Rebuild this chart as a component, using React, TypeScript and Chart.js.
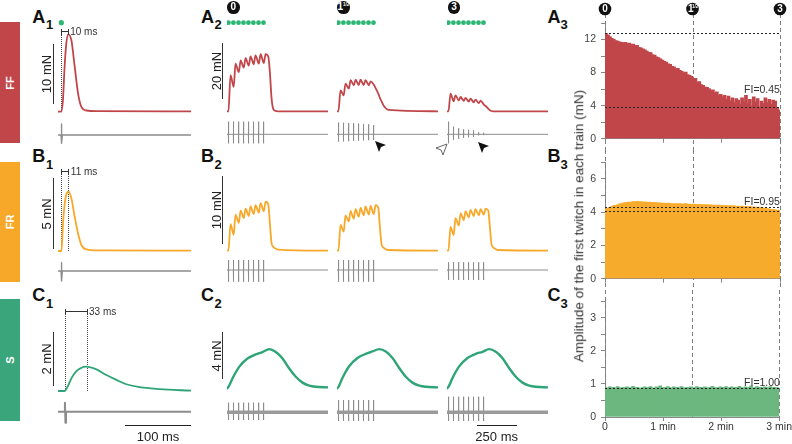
import React, { useEffect, useRef } from 'react';
import { Chart, registerables } from 'chart.js';

Chart.register(...registerables);

const FONT = '"Liberation Sans", Arial, Helvetica, sans-serif';

/* ======================= DATA ======================= */
// Single twitches: time (ms) / force (mN)
const TW_FF_T = [0, 5, 7.5, 10, 12.6, 15.5, 20.3, 25.3, 30.3, 35.4, 43, 60, 202];
const TW_FF = [0, 0, 1.95, 7.5, 11.4, 12.9, 11.9, 7.5, 3.1, 0.8, 0.2, 0.1, 0.05];
const TW_FR_T = [0, 5.2, 7.6, 10.2, 12.7, 16.2, 20.8, 25.3, 30.3, 35.5, 43, 63, 202];
const TW_FR = [0, 0, 1.95, 3.36, 4.0, 4.18, 3.6, 2.4, 1.25, 0.42, 0.12, 0.05, 0.03];
const TW_S_T = [0, 10.2, 15.2, 20.3, 27.9, 35.5, 42, 58.2, 73.3, 88.5, 103.6, 123.8, 154, 202];
const TW_S = [0, 0, 0.19, 0.47, 0.74, 0.86, 0.9, 0.8, 0.59, 0.41, 0.25, 0.14, 0.07, 0.01];
const TW_STIM_T = [5, 5, 10.5];
const TW_STIM_UP = [11, 8.3, 9];
const TW_STIM_DOWN = [8.3, 10, 11];
const TW_PEAK_MS = [10, 11, 33];

// Tetanic trains: 8 pulses
const STIM_T = [9, 40, 72, 103, 134, 165, 197, 228];
const TET_T = [0, 9, 22, 42, 53, 74, 85, 105, 116, 136, 147, 167, 178, 199, 210, 230, 241, 258, 268, 278, 288, 300, 320, 630];
const FF_TET_0 = [0, 0, 12.9, 8.7, 17, 14, 18.2, 15.6, 19, 16.3, 19.6, 16.8, 20, 17, 20.4, 17.2, 20.4, 19.5, 14, 5, 1, 0.2, 0, 0];
const FF_TET_1 = [0, 0, 7.5, 5.7, 9.9, 8.1, 11.1, 9.3, 11.3, 9.4, 11.3, 9.4, 11.1, 9.3, 10.7, 9.5, 8.3, 6.3, 4.8, 3.6, 2.4, 1.4, 0.5, 0];
const FF_TET_2 = [0, 0, 6.3, 3.6, 5.7, 3.9, 5.1, 3.7, 4.8, 3.5, 4.5, 3.2, 4.2, 2.9, 3.8, 2.4, 1.9, 0.9, 0.4, 0.1, 0, 0, 0, 0];
const FR_TET_0 = [0, 0, 3.9, 2.35, 5.3, 4.1, 5.9, 4.8, 6.2, 5.1, 6.5, 5.4, 6.7, 5.6, 7.0, 5.8, 7.2, 6.8, 4, 1.2, 0.6, 0.35, 0.15, 0];
const FR_TET_1 = [0, 0, 3.8, 2.8, 5.2, 4.3, 5.8, 4.7, 6.1, 5.0, 6.3, 5.2, 6.5, 5.3, 6.6, 5.4, 6.7, 6.3, 3.5, 1.0, 0.5, 0.3, 0.1, 0];
const FR_TET_2 = [0, 0, 3.5, 2.3, 4.8, 3.7, 5.5, 4.5, 5.8, 4.9, 6.0, 5.1, 6.1, 5.2, 6.1, 5.3, 6.2, 5.9, 3.5, 1.0, 0.5, 0.3, 0.1, 0];
const S_TET_T = [0, 10, 34, 76, 128, 180, 222, 264, 305, 347, 389, 430, 472, 514, 555, 630];
const S_TET_0 = [0, 0.15, 0.85, 1.84, 2.55, 2.9, 3.1, 3.35, 3.1, 2.55, 1.7, 1.0, 0.5, 0.25, 0.15, 0.1];
const S_TET_1 = [0, 0.15, 0.9, 1.9, 2.6, 2.95, 3.15, 3.35, 3.15, 2.6, 1.75, 1.0, 0.5, 0.25, 0.15, 0.1];
const S_TET_2 = [0, 0.15, 0.88, 1.88, 2.6, 2.95, 3.12, 3.35, 3.12, 2.58, 1.72, 1.0, 0.5, 0.25, 0.15, 0.1];

// Stimulus artefact amplitudes (arbitrary units)
const FF_STIM_UP = [[12.6, 12.6, 12.6, 12.6, 12.6, 12.6, 12.6, 12.6], [11.7, 11.5, 11.3, 11, 10.7, 10.4, 10, 9.3], [12.6, 7.6, 6, 5, 4.5, 4, 2, 1.5]];
const FF_STIM_DOWN = [[9, 9, 9, 9, 9, 9, 9, 9], [7.3, 7.1, 6.9, 6.6, 6.4, 6.1, 5.9, 5.7], [9, 5.7, 4.5, 3.5, 3, 2.5, 1, 0.8]];
const FR_STIM_UP = [[10, 10, 10, 10, 10, 10, 10, 10], [10, 10, 10, 10, 10, 10, 10, 10], [7.7, 7.7, 7.7, 7.7, 7.7, 7.7, 7.7, 7.7]];
const FR_STIM_DOWN = [[11.7, 11.7, 11.7, 11.7, 11.7, 11.7, 11.7, 11.7], [11.7, 11.7, 11.7, 11.7, 11.7, 11.7, 11.7, 11.7], [10, 10, 10, 10, 10, 10, 10, 10]];
const S_STIM_UP = [[9.6, 9.6, 9.6, 9.6, 9.6, 9.6, 9.6, 9.6], [12.3, 12.3, 12.3, 12.3, 12.3, 12.3, 12.3, 12.3], [15.6, 15.6, 15.6, 15.6, 15.6, 15.6, 15.6, 15.6]];
const S_STIM_DOWN = [[7.7, 7.7, 7.7, 7.7, 7.7, 7.7, 7.7, 7.7], [8.7, 8.7, 8.7, 8.7, 8.7, 8.7, 8.7, 8.7], [8.7, 8.7, 8.7, 8.7, 8.7, 8.7, 8.7, 8.7]];

// Amplitude of first twitch of each train (mN), one train every 2 s over 3 min
const TRAIN_INTERVAL_S = 2;
const FF_AMP = [
  12.8, 12.6, 12.4, 12.2, 12.05, 11.9, 11.85, 11.75, 11.7, 11.65,
  11.7, 11.55, 11.6, 11.45, 11.5, 11.3, 11.35, 11.1, 11.05, 10.9,
  10.8, 10.65, 10.5, 10.45, 10.2, 10.15, 9.95, 9.85, 9.7, 9.55,
  9.4, 9.3, 9.1, 9.05, 8.8, 8.75, 8.5, 8.55, 8.3, 8.2,
  8.0, 8.1, 7.8, 7.7, 7.6, 7.2, 7.35, 6.9, 6.95, 6.6,
  6.5, 6.3, 6.25, 6.1, 5.9, 5.95, 5.6, 5.7, 5.3, 5.4,
  5.1, 5.3, 4.8, 5.2, 4.6, 5.0, 4.4, 4.9, 4.7, 4.2,
  5.0, 4.5, 5.3, 4.3, 4.8, 4.0, 5.1, 4.5, 4.9, 3.9,
  4.6, 4.3, 5.0, 4.4, 4.8, 4.2, 4.7, 4.6, 3.8, 3.5,
];
const FR_AMP = [
  4.2, 4.25, 4.3, 4.35, 4.4, 4.42, 4.45, 4.5, 4.52, 4.55,
  4.58, 4.6, 4.62, 4.6, 4.65, 4.63, 4.66, 4.62, 4.65, 4.6,
  4.63, 4.6, 4.62, 4.58, 4.6, 4.57, 4.58, 4.55, 4.57, 4.54,
  4.55, 4.53, 4.55, 4.52, 4.53, 4.5, 4.52, 4.5, 4.52, 4.49,
  4.5, 4.52, 4.48, 4.5, 4.47, 4.5, 4.48, 4.46, 4.48, 4.45,
  4.47, 4.44, 4.46, 4.43, 4.45, 4.42, 4.44, 4.41, 4.43, 4.4,
  4.42, 4.39, 4.41, 4.38, 4.4, 4.37, 4.39, 4.36, 4.38, 4.35,
  4.37, 4.34, 4.36, 4.33, 4.35, 4.32, 4.33, 4.3, 4.31, 4.28,
  4.27, 4.25, 4.24, 4.22, 4.2, 4.18, 4.17, 4.15, 4.13, 4.12,
];
const S_AMP = [
  0.90, 0.88, 0.92, 0.89, 0.91, 0.87, 0.93, 0.90, 0.88, 0.91,
  0.89, 0.92, 0.87, 0.90, 0.94, 0.88, 0.91, 0.89, 0.86, 0.90,
  0.92, 0.88, 0.91, 0.93, 0.89, 0.87, 0.92, 0.90, 0.95, 0.88,
  0.91, 0.89, 0.93, 0.90, 0.87, 0.92, 0.89, 0.91, 0.88, 0.93,
  0.90, 0.87, 0.91, 0.89, 0.92, 0.88, 0.90, 0.93, 0.89, 0.91,
  0.88, 0.92, 0.90, 0.87, 0.91, 0.94, 0.89, 0.90, 0.88, 0.92,
  0.91, 0.89, 0.93, 0.88, 0.90, 0.92, 0.87, 0.91, 0.89, 0.94,
  0.90, 0.88, 0.92, 0.89, 0.91, 0.95, 0.88, 0.90, 0.93, 0.89,
  0.91, 0.87, 0.92, 0.90, 0.89, 0.93, 0.88, 0.91, 0.90, 0.89,
];
const REF_FF = [12.8, 3.85];
const REF_FR = [4.32, 4.08];
const REF_S = [0.89];
const FI_LABELS = ['FI=0.45', 'FI=0.95', 'FI=1.00'];
const Y_MAX = [14, 7, 3.5];
const Y_STEP = [2, 1, 0.5];
const Y_LABEL_EVERY = [4, 2, 1];
const MARK_MIN = [0, 1.5, 3];
const MARK_LABEL = ['0', '1', '3'];
const MARK_SUP = ['', '1/2', ''];
const SCALEBAR_MN = [[10, 5, 2], [20, 10, 4]];
const TIME_BARS_MS = [100, 250];
const SIDE_LABELS = ['FF', 'FR', 'S'];
const Y_TITLE = 'Amplitude of the first twitch in each train (mN)';

/* ======================= STYLE / LAYOUT ======================= */
const ROW_COLORS = ['#c1464a', '#f7a829', '#2fa577'];
const SIDE_COLORS = ['#c1464a', '#f7a829', '#3aa57a'];
const BAR_COLORS = ['#c1464a', '#f7ab2c', '#6cb77f'];
const GREEN_DOT = '#2bb673';
const STIM_COLOR = '#8c8c8c';

const TW_PX = 0.66; // px per ms (single twitch)
const TW_LEFT = 58.3;
const TW_W = 133;
const TET_PX = 0.16; // px per ms (tetanic)
const TET_LEFTS = [226.5, 336.6, 447.2];
const TET_W = 101;

const ROWS = [
  { top: 15, h: 135, twBase: 111.7, twScale: 6, twStimBase: 135, tetBase: 111.3, tetScale: 2.8, tetStimBase: 134.3, bracketY: 31.7, sb1Bottom: 104, sb2Bottom: 99.3, letterY: 17.2, subY: 23.5 },
  { top: 160, h: 130, twBase: 251, twScale: 14.2, twStimBase: 271, tetBase: 250.7, tetScale: 6.8, tetStimBase: 270, bracketY: 171.7, sb1Bottom: 249.3, sb2Bottom: 244.3, letterY: 155.5, subY: 163.5 },
  { top: 300, h: 130, twBase: 391, twScale: 27, twStimBase: 411.7, tetBase: 388.5, tetScale: 11.75, tetStimBase: 412.3, bracketY: 311.7, sb1Bottom: 386, sb2Bottom: 379.3, letterY: 295, subY: 302.5 },
];
const SIDE_BOX = [{ top: 22, h: 121 }, { top: 162, h: 120 }, { top: 299, h: 122 }];
const AMP_PANELS = [
  { top: 0, h: 150, padTop: 23, xH: 10 },
  { top: 150, h: 140, padTop: 12, xH: 11 },
  { top: 290, h: 154, padTop: 11, xH: 27 },
];

const TW_T = [TW_FF_T, TW_FR_T, TW_S_T];
const TW_F = [TW_FF, TW_FR, TW_S];
const TET_TIMES = [TET_T, TET_T, S_TET_T];
const TET_F = [[FF_TET_0, FF_TET_1, FF_TET_2], [FR_TET_0, FR_TET_1, FR_TET_2], [S_TET_0, S_TET_1, S_TET_2]];
const TET_UP = [FF_STIM_UP, FR_STIM_UP, S_STIM_UP];
const TET_DOWN = [FF_STIM_DOWN, FR_STIM_DOWN, S_STIM_DOWN];
const AMPS = [FF_AMP, FR_AMP, S_AMP];
const REFS = [REF_FF, REF_FR, REF_S];

function spikes(times: number[], ups: number[], downs: number[], end: number) {
  const xs: number[] = [0];
  const ys: number[] = [0];
  times.forEach((t, i) => {
    xs.push(t - 0.4, t, t + 0.8, t + 1.6);
    ys.push(0, ups[i], -downs[i], 0);
  });
  xs.push(end);
  ys.push(0);
  return { xs, ys };
}

type Layer = { xs: number[]; ys: number[]; color: string; width?: number; base: number; scale: number; radius?: number; smooth?: boolean };

function TraceChart({ left, top, width, height, pxPerMs, layers }: { left: number; top: number; width: number; height: number; pxPerMs: number; layers: Layer[] }) {
  const ref = useRef<HTMLCanvasElement>(null);
  useEffect(() => {
    const scales: any = { x: { type: 'linear', display: false, min: 0, max: width / pxPerMs } };
    const datasets = layers.map((L, i) => {
      const id = 'y' + i;
      scales[id] = { type: 'linear', display: false, min: -(top + height - L.base) / L.scale, max: (L.base - top) / L.scale };
      const dots = !!L.radius;
      return {
        data: L.xs.map((x, j) => ({ x, y: L.ys[j] })),
        xAxisID: 'x',
        yAxisID: id,
        borderColor: L.color,
        backgroundColor: L.color,
        borderWidth: L.width ?? 1,
        pointRadius: L.radius ?? 0,
        pointHoverRadius: 0,
        pointBorderWidth: 0,
        showLine: !dots,
        cubicInterpolationMode: L.smooth ? 'monotone' : 'default',
        tension: 0,
        fill: false,
        clip: 8,
        borderJoinStyle: 'round',
        borderCapStyle: 'round',
      };
    });
    const chart = new Chart(ref.current as HTMLCanvasElement, {
      type: 'line',
      data: { datasets },
      options: {
        animation: false,
        responsive: false,
        maintainAspectRatio: false,
        events: [],
        layout: { padding: 0, autoPadding: false },
        plugins: { legend: { display: false }, tooltip: { enabled: false } },
        scales,
      },
    } as any);
    return () => chart.destroy();
  }, []);
  return <canvas ref={ref} width={width} height={height} style={{ position: 'absolute', left, top, width, height }} />;
}

function AmpChart({ idx }: { idx: number }) {
  const ref = useRef<HTMLCanvasElement>(null);
  const P = AMP_PANELS[idx];
  useEffect(() => {
    const vals = AMPS[idx];
    const data = vals.map((v, i) => ({ x: ((i + 0.5) * TRAIN_INTERVAL_S) / 60, y: v }));
    const marks = {
      id: 'marks' + idx,
      beforeDatasetsDraw(chart: any) {
        const { ctx, chartArea } = chart;
        const xs = chart.scales.x;
        const y0 = idx === 0 ? 14 : 0;
        const y1 = idx === 2 ? chartArea.bottom : chart.height;
        ctx.save();
        ctx.strokeStyle = '#7d7d7d';
        ctx.lineWidth = 1;
        ctx.setLineDash([4, 3]);
        MARK_MIN.forEach((m) => {
          const x = Math.round(xs.getPixelForValue(m)) + 0.5;
          ctx.beginPath();
          ctx.moveTo(x, y0);
          ctx.lineTo(x, y1);
          ctx.stroke();
        });
        ctx.restore();
      },
      afterDatasetsDraw(chart: any) {
        const { ctx, chartArea } = chart;
        const ys = chart.scales.y;
        const xs = chart.scales.x;
        ctx.save();
        ctx.strokeStyle = '#262626';
        ctx.lineWidth = 1;
        ctx.setLineDash([2, 2]);
        REFS[idx].forEach((v) => {
          const y = Math.round(ys.getPixelForValue(v)) + 0.5;
          ctx.beginPath();
          ctx.moveTo(chartArea.left, y);
          ctx.lineTo(chartArea.right, y);
          ctx.stroke();
        });
        ctx.restore();
        if (idx === 0) {
          ctx.save();
          MARK_MIN.forEach((m, k) => {
            const x = xs.getPixelForValue(m);
            const y = 9;
            ctx.fillStyle = '#111';
            ctx.beginPath();
            ctx.arc(x, y, 6.3, 0, Math.PI * 2);
            ctx.fill();
            ctx.fillStyle = '#fff';
            ctx.textAlign = 'center';
            ctx.textBaseline = 'middle';
            ctx.font = `bold 10px ${FONT}`;
            if (MARK_SUP[k]) {
              ctx.fillText(MARK_LABEL[k], x - 1.6, y + 0.5);
              ctx.font = `bold 4.5px ${FONT}`;
              ctx.fillText(MARK_SUP[k], x + 2.6, y - 2);
            } else {
              ctx.fillText(MARK_LABEL[k], x, y + 0.5);
            }
          });
          ctx.restore();
        }
      },
    };
    const every = Y_LABEL_EVERY[idx];
    const chart = new Chart(ref.current as HTMLCanvasElement, {
      type: 'bar',
      data: {
        datasets: [
          { data, backgroundColor: BAR_COLORS[idx], borderWidth: 0, barPercentage: 1.9, categoryPercentage: 1, inflateAmount: 0 },
        ],
      },
      options: {
        animation: false,
        responsive: false,
        maintainAspectRatio: false,
        events: [],
        layout: { padding: { left: 0, right: 12, top: P.padTop, bottom: 0 }, autoPadding: false },
        plugins: { legend: { display: false }, tooltip: { enabled: false } },
        scales: {
          x: {
            type: 'linear',
            min: 0,
            max: 3,
            offset: false,
            afterFit: (s: any) => {
              s.height = P.xH;
            },
            grid: { display: true, drawOnChartArea: false, drawTicks: true, tickLength: 4, color: '#888', offset: false },
            border: { display: true, color: '#888' },
            ticks: {
              display: idx === 2,
              stepSize: 1,
              autoSkip: false,
              maxRotation: 0,
              padding: 0,
              color: '#333',
              font: { family: FONT, size: 10.5 },
              callback: (v: number) => (v === 0 ? '0' : v + ' min'),
            },
          },
          y: {
            type: 'linear',
            min: 0,
            max: Y_MAX[idx],
            afterFit: (s: any) => {
              s.width = 45;
            },
            grid: { display: true, drawOnChartArea: false, drawTicks: true, tickLength: 4, color: '#888' },
            border: { display: true, color: '#888' },
            ticks: {
              stepSize: Y_STEP[idx],
              autoSkip: false,
              padding: 5,
              color: '#444',
              font: { family: FONT, size: 10.5 },
              callback: (v: number) => (Math.abs(v / every - Math.round(v / every)) < 1e-6 ? String(v) : ''),
            },
          },
        },
      },
      plugins: [marks],
    } as any);
    return () => chart.destroy();
  }, []);
  return <canvas ref={ref} width={232} height={P.h} style={{ position: 'absolute', left: 560, top: P.top, width: 232, height: P.h }} />;
}

function Txt({ x, y, size, children, bold, color = '#222', rotate, align = 'center' }: any) {
  const tx = align === 'center' ? '-50%' : align === 'right' ? '-100%' : '0';
  return (
    <div
      style={{
        position: 'absolute',
        left: x,
        top: y,
        fontSize: size,
        fontWeight: bold ? 'bold' : 'normal',
        color,
        lineHeight: 1,
        whiteSpace: 'nowrap',
        fontFamily: FONT,
        transform: `translate(${tx}, -50%)${rotate ? ` rotate(${rotate}deg)` : ''}`,
      }}
    >
      {children}
    </div>
  );
}

function Box({ x, y, w, h, style }: any) {
  return <div style={{ position: 'absolute', left: x, top: y, width: w, height: h, ...style }} />;
}

function NumCircle({ x, y, label, sup }: any) {
  return (
    <div
      style={{
        position: 'absolute',
        left: x - 6.3,
        top: y - 6.3,
        width: 12.6,
        height: 12.6,
        borderRadius: '50%',
        background: '#111',
        color: '#fff',
        fontFamily: FONT,
        fontWeight: 'bold',
        fontSize: 10,
        lineHeight: '12.6px',
        textAlign: 'center',
      }}
    >
      {label}
      {sup ? <span style={{ fontSize: 4.5, verticalAlign: 'top', lineHeight: '8px' }}>{sup}</span> : null}
    </div>
  );
}

function ArrowFilled({ x, y }: any) {
  return (
    <svg width={12} height={12} style={{ position: 'absolute', left: x, top: y, overflow: 'visible' }}>
      <path d="M0,0 L11,4 L6,6 L4,11 Z" fill="#111" />
    </svg>
  );
}
function ArrowOpen({ x, y }: any) {
  return (
    <svg width={12} height={12} style={{ position: 'absolute', left: x - 11, top: y, overflow: 'visible' }}>
      <path d="M11,0 L0,4 L5,6 L7,11 Z" fill="#fff" stroke="#555" strokeWidth={0.9} />
    </svg>
  );
}

export default function App() {
  const letters = ['A', 'B', 'C'];
  const letterX = [38.7, 207.5, 554];
  const subX = [49.5, 218.2, 564];
  return (
    <div style={{ position: 'absolute', left: 0, top: 0, width: 792, height: 444, background: '#fff', overflow: 'hidden', fontFamily: FONT }}>
      {/* side colour labels */}
      {SIDE_LABELS.map((s, r) => (
        <React.Fragment key={'side' + r}>
          <Box x={0} y={SIDE_BOX[r].top} w={19.5} h={SIDE_BOX[r].h} style={{ background: SIDE_COLORS[r] }} />
          <Txt x={10} y={SIDE_BOX[r].top + SIDE_BOX[r].h / 2} size={11} bold color="#fff" rotate={-90}>
            {s}
          </Txt>
        </React.Fragment>
      ))}

      {/* panel letters */}
      {letters.map((L, r) =>
        [0, 1, 2].map((c) => (
          <React.Fragment key={'lab' + r + c}>
            <Txt x={letterX[c]} y={ROWS[r].letterY} size={18} bold color="#111">
              {L}
            </Txt>
            <Txt x={subX[c]} y={ROWS[r].subY} size={13} bold color="#111">
              {c + 1}
            </Txt>
          </React.Fragment>
        ))
      )}

      {/* single twitch column */}
      {ROWS.map((R, r) => {
        const st = spikes([TW_STIM_T[r]], [TW_STIM_UP[r]], [TW_STIM_DOWN[r]], TW_W / TW_PX);
        const layers: Layer[] = [
          { xs: TW_T[r], ys: TW_F[r], color: ROW_COLORS[r], width: 1.8, base: R.twBase, scale: R.twScale, smooth: true },
          { xs: st.xs, ys: st.ys, color: STIM_COLOR, width: r === 2 ? 2 : 1.4, base: R.twStimBase, scale: 1 },
        ];
        if (r === 0) layers.push({ xs: [TW_STIM_T[0]], ys: [0], color: GREEN_DOT, base: 22.7, scale: 1, radius: 2.6 });
        const ox = TW_LEFT + TW_STIM_T[r] * TW_PX;
        const px = ox + TW_PEAK_MS[r] * TW_PX;
        return (
          <React.Fragment key={'tw' + r}>
            <Box x={ox - 0.5} y={R.bracketY} w={0} h={R.twBase - R.bracketY} style={{ borderLeft: '1px dotted #444' }} />
            {r > 0 ? <Box x={px - 0.5} y={R.bracketY} w={0} h={R.twBase - R.bracketY} style={{ borderLeft: '1px dotted #444' }} /> : null}
            <TraceChart left={TW_LEFT} top={R.top} width={TW_W} height={R.h} pxPerMs={TW_PX} layers={layers} />
            <Box x={ox} y={R.bracketY - 0.5} w={px - ox} h={1} style={{ background: '#333' }} />
            <Box x={ox - 0.5} y={R.bracketY - 3} w={1} h={6} style={{ background: '#333' }} />
            <Box x={px - 0.5} y={R.bracketY - 3} w={1} h={6} style={{ background: '#333' }} />
            <Txt x={px + 2} y={R.bracketY + 0.5} size={10} align="left" color="#333">
              {TW_PEAK_MS[r]} ms
            </Txt>
            {/* force scale bar */}
            <Box x={52.5} y={R.sb1Bottom - SCALEBAR_MN[0][r] * R.twScale} w={1.1} h={SCALEBAR_MN[0][r] * R.twScale} style={{ background: '#333' }} />
            <Txt x={46.3} y={R.sb1Bottom - (SCALEBAR_MN[0][r] * R.twScale) / 2} size={13} rotate={-90} color="#222">
              {SCALEBAR_MN[0][r]} mN
            </Txt>
          </React.Fragment>
        );
      })}

      {/* tetanic column */}
      {ROWS.map((R, r) => (
        <React.Fragment key={'tet' + r}>
          {TET_LEFTS.map((lx, k) => {
            const st = spikes(STIM_T, TET_UP[r][k], TET_DOWN[r][k], TET_W / TET_PX);
            const layers: Layer[] = [];
            if (r === 2) layers.push({ xs: [0, TET_W / TET_PX], ys: [0, 0], color: '#9a9a9a', width: 3.6, base: R.tetStimBase, scale: 1 });
            layers.push({ xs: st.xs, ys: st.ys, color: STIM_COLOR, width: 1, base: R.tetStimBase, scale: 1 });
            layers.push({ xs: TET_TIMES[r], ys: TET_F[r][k], color: ROW_COLORS[r], width: r === 2 ? 2.4 : 1.8, base: R.tetBase, scale: R.tetScale, smooth: true });
            if (r === 0) layers.push({ xs: STIM_T, ys: STIM_T.map(() => 0), color: GREEN_DOT, base: 22.7, scale: 1, radius: 2.4 });
            return <TraceChart key={'tc' + r + k} left={lx} top={R.top} width={TET_W} height={R.h} pxPerMs={TET_PX} layers={layers} />;
          })}
          <Box x={221.8} y={R.sb2Bottom - SCALEBAR_MN[1][r] * R.tetScale} w={1.1} h={SCALEBAR_MN[1][r] * R.tetScale} style={{ background: '#333' }} />
          <Txt x={216.3} y={R.sb2Bottom - (SCALEBAR_MN[1][r] * R.tetScale) / 2} size={13} rotate={-90} color="#222">
            {SCALEBAR_MN[1][r]} mN
          </Txt>
        </React.Fragment>
      ))}

      {/* numbered circles above trains */}
      {TET_LEFTS.map((lx, k) => (
        <NumCircle key={'nc' + k} x={lx + 6.8} y={7.5} label={MARK_LABEL[k]} sup={MARK_SUP[k]} />
      ))}

      {/* arrowheads */}
      <ArrowFilled x={375} y={140.5} />
      <ArrowFilled x={478} y={142} />
      <ArrowOpen x={446.5} y={143.5} />

      {/* time scale bars */}
      <Box x={125} y={425.2} w={TIME_BARS_MS[0] * TW_PX} h={1.1} style={{ background: '#222' }} />
      <Txt x={125 + (TIME_BARS_MS[0] * TW_PX) / 2} y={435.5} size={13}>
        {TIME_BARS_MS[0]} ms
      </Txt>
      <Box x={476.7} y={425.2} w={TIME_BARS_MS[1] * TET_PX} h={1.1} style={{ background: '#222' }} />
      <Txt x={476.7 + (TIME_BARS_MS[1] * TET_PX) / 2} y={435.5} size={13}>
        {TIME_BARS_MS[1]} ms
      </Txt>

      {/* amplitude column */}
      {[0, 1, 2].map((i) => (
        <AmpChart key={'amp' + i} idx={i} />
      ))}
      <Txt x={762} y={88.5} size={10.5} color="#333">
        {FI_LABELS[0]}
      </Txt>
      <Txt x={762} y={201} size={10.5} color="#333">
        {FI_LABELS[1]}
      </Txt>
      <Txt x={762} y={381.5} size={10.5} color="#333">
        {FI_LABELS[2]}
      </Txt>
      <Txt x={579} y={225.5} size={13.5} rotate={-90} color="#333">
        {Y_TITLE}
      </Txt>
    </div>
  );
}
